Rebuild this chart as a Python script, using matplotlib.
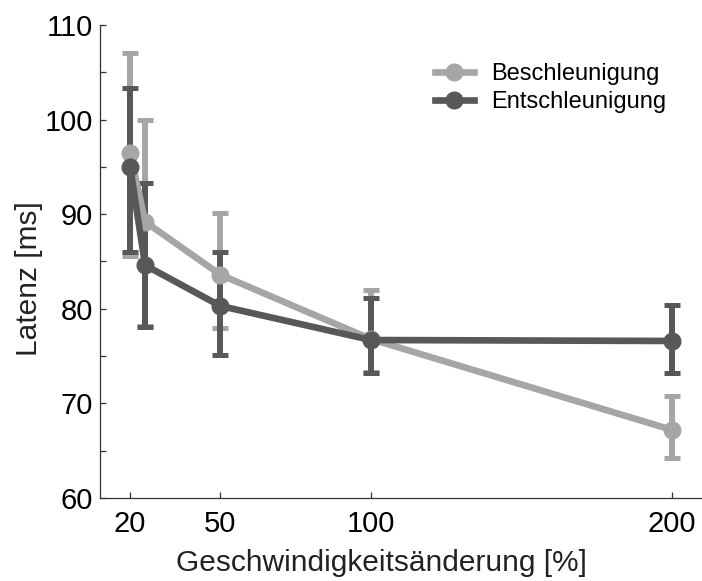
"""Latenz vs Geschwindigkeitsänderung"""
import matplotlib
matplotlib.use("Agg")
import matplotlib.pyplot as plt
from matplotlib.lines import Line2D
from matplotlib.ticker import MultipleLocator

plt.rcParams["font.family"] = ["Liberation Sans", "DejaVu Sans"]

# Daten
x_vals = [20, 25, 50, 100, 200]
besch_mean = [96.5, 89.2, 83.6, 76.8, 67.2]
besch_lo = [85.6, 78.2, 78.0, 73.3, 64.2]
besch_hi = [107.0, 100.0, 90.1, 82.0, 70.8]
entsch_mean = [95.0, 84.6, 80.3, 76.7, 76.6]
entsch_lo = [86.0, 78.1, 75.1, 73.2, 73.2]
entsch_hi = [103.3, 93.3, 86.0, 81.1, 80.4]
xticks = [20, 50, 100, 200]
labels = ["Beschleunigung", "Entschleunigung"]

c_light = "#a6a6a9"
c_dark = "#58585b"

fig = plt.figure(figsize=(7.02, 5.81), dpi=100)
ax = fig.add_axes([100 / 702, 1 - 498 / 581, 602 / 702, (498 - 25) / 581])

handles = []
for mean, lo, hi, col, lab in [
    (besch_mean, besch_lo, besch_hi, c_light, labels[0]),
    (entsch_mean, entsch_lo, entsch_hi, c_dark, labels[1]),
]:
    yerr = [[m - l for m, l in zip(mean, lo)], [h - m for m, h in zip(mean, hi)]]
    ax.errorbar(x_vals, mean, yerr=yerr, color=col, lw=4.8, marker="o",
                markersize=12, elinewidth=4.3, capsize=5.8, capthick=3.6)
    handles.append(Line2D([], [], color=col, lw=4.8, marker="o",
                          markersize=12, label=lab))

ax.set_xlim(10, 210)
ax.set_ylim(60, 110)
ax.set_xticks(xticks)
ax.yaxis.set_major_locator(MultipleLocator(10))
ax.yaxis.set_minor_locator(MultipleLocator(5))
ax.tick_params(axis="both", which="both", direction="in", length=4.5,
               width=0.9, color="#333333", labelsize=21)
ax.tick_params(axis="x", pad=9)
ax.tick_params(axis="y", pad=5)
for side in ["top", "right"]:
    ax.spines[side].set_visible(False)
for side in ["left", "bottom"]:
    ax.spines[side].set_linewidth(0.9)
    ax.spines[side].set_color("#333333")

ax.set_xlabel("Geschwindigkeitsänderung [%]", fontsize=21.5, color="#222222")
ax.set_ylabel("Latenz [ms]", fontsize=21.5, color="#222222")
ax.xaxis.set_label_coords(0.468, -0.108)
ax.yaxis.set_label_coords(-0.095, 0.463)

ax.legend(handles=handles, loc="upper left", bbox_to_anchor=(0.556, 0.92),
          frameon=False, fontsize=17, handlelength=1.65, handletextpad=0.75,
          labelspacing=0.27, borderpad=0, borderaxespad=0)

fig.savefig("out.png", dpi=100)
plt.close(fig)
